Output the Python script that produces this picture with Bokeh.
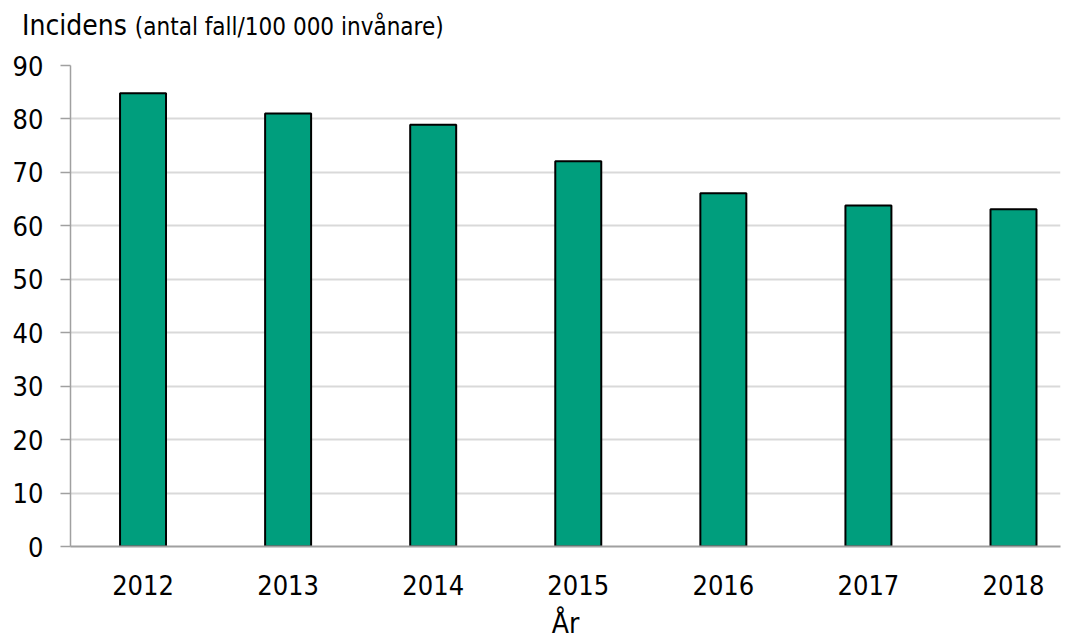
from bokeh.plotting import figure
from bokeh.models import FixedTicker, Range1d, ColumnDataSource, Div
from bokeh.layouts import column
from bokeh.embed import file_html
from bokeh.resources import INLINE

years = ["2012", "2013", "2014", "2015", "2016", "2017", "2018"]
incidence = [84.8, 81.0, 78.9, 72.1, 66.1, 63.8, 63.1]
y_ticks = [0, 10, 20, 30, 40, 50, 60, 70, 80, 90]

FONT = "DejaVu Sans Condensed"

idx = list(range(len(years)))
src = ColumnDataSource(dict(x=idx, top=incidence, year=years))

TITLE_H = 48
title = Div(
    text=(f'<div style="display:flex;align-items:baseline;white-space:nowrap;'
          f'font-family:\'{FONT}\';color:black;padding:12px 0 0 22px;line-height:28px;">'
          '<span style="font-size:28px;">Incidens</span>'
          '<span style="font-size:24px;margin-left:8px;">(antal fall/100 000 invånare)</span>'
          '</div>'),
    width=1071, height=TITLE_H, margin=(0, 0, 0, 0))

p = figure(x_range=Range1d(-0.5, 6.324), y_range=Range1d(0, 90),
           width=1071, height=643 - TITLE_H,
           output_backend="svg", toolbar_location=None,
           min_border_left=70, min_border_right=11, min_border_top=65 - TITLE_H,
           min_border_bottom=643 - 546)
p.outline_line_color = None
p.margin = (0, 0, 0, 0)

p.vbar(x="x", top="top", width=0.317, source=src, fill_color="#009E7D",
       line_color="black", line_width=2)

p.yaxis.ticker = FixedTicker(ticks=y_ticks)
p.yaxis.major_label_text_font = FONT
p.yaxis.major_label_text_font_size = "27px"
p.yaxis.major_label_text_color = "black"
p.yaxis.axis_line_color = "#a0a0a0"
p.yaxis.axis_line_width = 1.5
p.yaxis.major_tick_line_color = "#a0a0a0"
p.yaxis.major_tick_line_width = 1.5
p.yaxis.major_tick_out = 10
p.yaxis.major_tick_in = 0
p.yaxis.minor_tick_line_color = None
p.yaxis.major_label_standoff = 17

p.xaxis.ticker = FixedTicker(ticks=idx)
p.xaxis.major_label_overrides = {i: y for i, y in zip(idx, years)}
p.xaxis.major_label_text_font = FONT
p.xaxis.major_label_text_font_size = "27px"
p.xaxis.major_label_text_color = "black"
p.xaxis.axis_line_color = "#a0a0a0"
p.xaxis.axis_line_width = 2
p.xaxis.major_tick_line_color = None
p.xaxis.minor_tick_line_color = None
p.xaxis.major_tick_out = 0
p.xaxis.major_tick_in = 0
p.xaxis.major_label_standoff = 28
p.xaxis.axis_label = "År"
p.xaxis.axis_label_text_font = FONT
p.xaxis.axis_label_text_font_size = "28px"
p.xaxis.axis_label_text_font_style = "normal"
p.xaxis.axis_label_text_color = "black"
p.xaxis.axis_label_standoff = 9

p.xgrid.grid_line_color = None
p.ygrid.grid_line_color = "#d9d9d9"
p.ygrid.grid_line_width = 2

layout = column(title, p, spacing=0)
open("out.html", "w").write(file_html(layout, INLINE))
